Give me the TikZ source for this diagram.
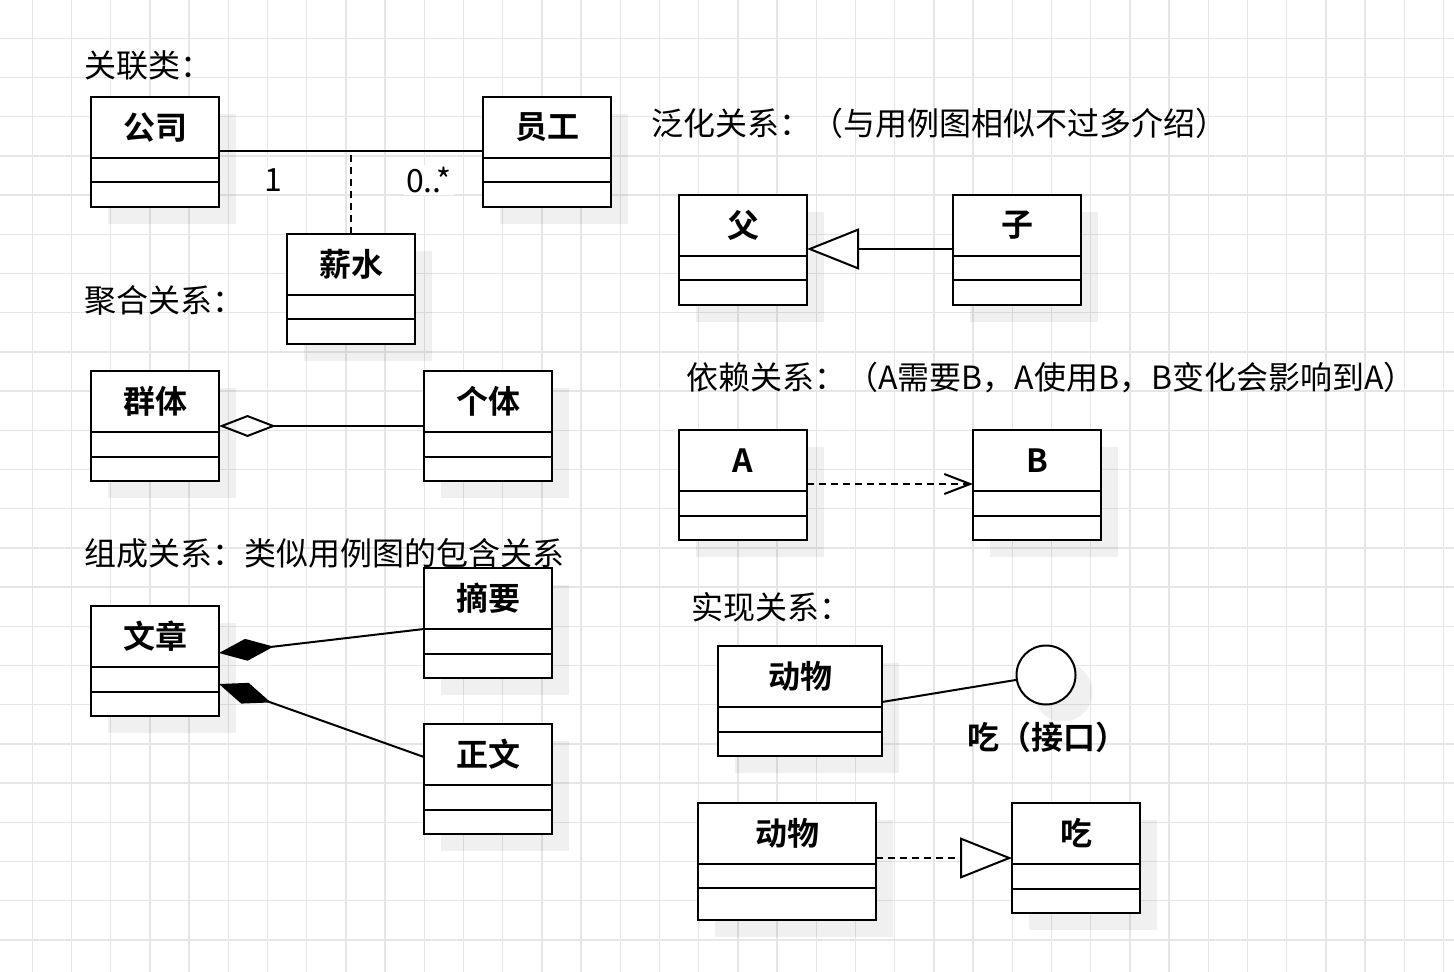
\documentclass[tikz,border=0pt]{standalone}
\usepackage{fontspec}
\setmainfont{Noto Sans CJK SC}[BoldFont={* Bold}]
\usepackage{tikz}
\usetikzlibrary{arrows.meta,positioning,calc,shadows}
\definecolor{gridgray}{HTML}{E6E6E6}
\newcommand\diafont{\fontsize{16pt}{19pt}\selectfont}
\tikzset{
  shade/.style ={drop shadow={shadow xshift=8.5pt,shadow yshift=-8.5pt,
                 fill=black,opacity=.06}},
  cls/.style   ={draw,line width=1pt,fill=white,outer sep=0pt,inner sep=0pt,
                 minimum height=30.5pt,anchor=north west,font=\diafont\bfseries,shade},
  slot/.style  ={draw,line width=1pt,fill=white,outer sep=0pt,inner sep=0pt,
                 minimum height=12.25pt,shade},
  ball/.style  ={circle,draw,line width=1pt,fill=white,minimum size=29.5pt,
                 inner sep=0pt,shade},
  title/.style ={anchor=west,inner sep=0pt},
  mult/.style  ={fill=white,inner sep=1pt},
  line/.style  ={line width=1pt,draw=black},
  dashline/.style={line width=1pt,draw=black,dash pattern=on 3.5pt off 2.5pt},
  gridline/.style={line width=0.65pt,draw=gridgray}
}
% class box: header plus two empty compartments
\newcommand\umlclass[4][64pt]{%
  \node[cls,minimum width=#1] (#2) at #3 {#4};
  \node[slot,minimum width=#1,below=0pt of #2] (#2-m) {};
  \node[slot,minimum width=#1,below=0pt of #2-m] (#2-o) {};}

\begin{document}
\begin{tikzpicture}[x=0.5pt,y=-0.5pt,every node/.style={font=\diafont}]
  \fill[white] (0,0) rectangle (1454,972);
  \useasboundingbox (0,0) rectangle (1454,972);
  \foreach \i in {0,...,36} \draw[gridline] ({32.3+39.2*\i},0) -- ++(0,972);
  \foreach \j in {0,...,23} \draw[gridline] (0,{38.3+39.2*\j}) -- ++(1454,0);

  % section titles
  \node[title] (t-assoc) at (84,65) {关联类：};
  \node[title] (t-aggr) at (84,300) {聚合关系：};
  \node[title] (t-comp) at (84,553) {组成关系：类似用例图的包含关系};
  \node[title] (t-gen) at (651,123) {泛化关系：（与用例图相似不过多介绍）};
  \node[title] (t-dep) at (686,378) {依赖关系：（A需要B，A使用B，B变化会影响到A）};
  \node[title] (t-real) at (691,607) {实现关系：};

  % classes
  \umlclass{gs}{(91,97)}{公司}
  \umlclass{yg}{(483,97)}{员工}
  \umlclass{xs}{(287,234)}{薪水}
  \umlclass{qt}{(91,371)}{群体}
  \umlclass{gt}{(424,371)}{个体}
  \umlclass{wz}{(91,606)}{文章}
  \umlclass{zy}{(424,568)}{摘要}
  \umlclass{zw}{(424,724)}{正文}
  \umlclass{fu}{(679,195)}{父}
  \umlclass{zi}{(953,195)}{子}
  \umlclass{ca}{(679,430)}{A}
  \umlclass{cb}{(973,430)}{B}
  \umlclass[82pt]{dw}{(718,646)}{动物}
  \node[cls,minimum width=89pt] (dx) at (698,803) {动物};
  \node[slot,minimum width=89pt,minimum height=12pt,below=0pt of dx] (dx-m) {};
  \node[slot,minimum width=89pt,minimum height=16pt,below=0pt of dx-m] (dx-o) {};
  \umlclass{ch}{(1012,803)}{吃}
  \node[ball] (ci) at (1046,675) {};
  \node[font=\diafont\bfseries] (ci-lbl) at (1047,737) {吃（接口）};

  % association class
  \draw[line] ($(gs.east)+(0,23.5)$) coordinate (as-l) -- ($(yg.west)+(0,23.5)$);
  \draw[dashline] (xs.north) -- (xs.north |- as-l);
  \node[mult] (m-one) at (273,180) {1};
  \node[mult] (m-many) at (429,180) {0..*};

  % aggregation / composition
  \draw[line,{Diamond[open,length=28.5pt,width=11pt]}-] ($(qt.east)+(0,24.5)$) -- ($(gt.west)+(0,24.5)$);
  \draw[line,{Diamond[length=27.5pt,width=11pt]}-] ($(wz.east)+(0,16.5)$) -- (zy.south west);
  \draw[line,{Diamond[length=27.5pt,width=11pt]}-] ($(wz.east)+(0,47.5)$) -- ($(zw.west)+(0,2.5)$);

  % generalization / dependency / realization
  \draw[line,-{Triangle[open,fill=white,length=26pt,width=20.5pt]}] ($(zi.west)+(0,23.5)$) -- ($(fu.east)+(0,23.5)$);
  \draw[dashline,-{Straight Barb[length=13pt,width=10pt]}] ($(ca.east)+(0,23.5)$) -- ($(cb.west)+(0,23.5)$);
  \draw[line] ($(dw.east)+(0,25.5)$) -- (ci);
  \draw[dashline,-{Triangle[open,fill=white,length=26pt,width=20.5pt]}] ($(dx.east)+(0,24.5)$) -- ($(ch.west)+(0,24.5)$);
\end{tikzpicture}
\end{document}
